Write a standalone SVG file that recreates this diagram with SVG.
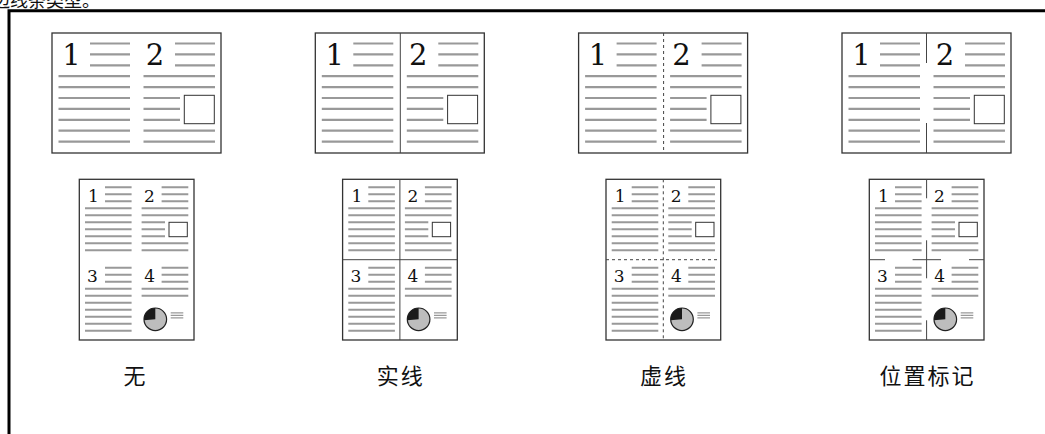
<svg xmlns="http://www.w3.org/2000/svg" xmlns:xlink="http://www.w3.org/1999/xlink" width="1045" height="434" viewBox="0 0 1045 434">
<style>
.frame{fill:#fff;stroke:#333;stroke-width:1.3}
.ln{fill:none;stroke:#999;stroke-width:2.2}
.ln2{fill:none;stroke:#999;stroke-width:2}
.sm{fill:none;stroke:#999;stroke-width:1.2}
.box{fill:#fff;stroke:#333;stroke-width:1}
.dgL{font-family:"DejaVu Serif",serif;font-size:29px;fill:#111;text-anchor:middle}
.dgS{font-family:"DejaVu Serif",serif;font-size:17px;fill:#111;text-anchor:middle}
.div{fill:none;stroke:#444;stroke-width:1}
.dash{fill:none;stroke:#444;stroke-width:1;stroke-dasharray:3 3}
.lbl{font-family:"Noto Sans CJK SC","Noto Sans",sans-serif;font-size:22px;letter-spacing:2px;fill:#111;text-anchor:middle}
.cap{font-family:"Noto Sans CJK SC","Noto Sans",sans-serif;font-size:18px;fill:#111}
</style>
<defs>
<g id="land">
<rect class="frame" x="0" y="0" width="169" height="120"/>
<path class="ln" d="M38,10.5H78M38,21.4H78M38,32.3H78M6.5,43.2H78M6.5,54.1H78M6.5,65H78M6.5,75.9H78M6.5,86.8H78M6.5,97.7H78M6.5,108.6H78"/>
<path class="ln" d="M123,10.5H163M123,21.4H163M123,32.3H163M91.5,43.2H163M91.5,54.1H163M91.5,65H128M91.5,75.9H128M91.5,86.8H128M91.5,97.7H163M91.5,108.6H163"/>
<rect class="box" x="132.3" y="62.3" width="30" height="28.4"/>
<text class="dgL" x="19.5" y="32">1</text>
<text class="dgL" x="103" y="32">2</text>
</g>
<g id="port">
<rect class="frame" x="0" y="0" width="114.7" height="160.7"/>
<path class="ln2" d="M25.7,8H52.3M25.7,15H52.3M25.7,22H52.3M5.7,29H52.3M5.7,36H52.3M5.7,43H52.3M5.7,50H52.3M5.7,57H52.3M5.7,64H52.3M5.7,71H52.3"/>
<path class="ln2" d="M82.3,8H109M82.3,15H109M82.3,22H109M62.3,29H109M62.3,36H109M62.3,43H85.7M62.3,50H85.7M62.3,57H85.7M62.3,64H109M62.3,71H109"/>
<path class="ln2" d="M25.7,88.4H52.3M25.7,95.4H52.3M25.7,102.4H52.3M5.7,109.4H52.3M5.7,116.4H52.3M5.7,123.4H52.3M5.7,130.4H52.3M5.7,137.4H52.3M5.7,144.4H52.3M5.7,151.4H52.3"/>
<path class="ln2" d="M82.3,88.4H109M82.3,95.4H109M82.3,102.4H109M62.3,109.4H109M62.3,116.4H109"/>
<rect class="box" x="89.7" y="43" width="18.3" height="14.4"/>
<circle cx="76" cy="140" r="11.3" fill="#bdbdbd" stroke="#222" stroke-width="1.2"/>
<path d="M76,140L76,128.7A11.3,11.3 0 0 0 64.74,140.98Z" fill="#1a1a1a"/>
<path class="sm" d="M91.4,133.5H104M91.4,136H104M91.4,138.5H104"/>
<text class="dgS" x="14.2" y="22.4">1</text>
<text class="dgS" x="70.2" y="22.4">2</text>
<text class="dgS" x="13.2" y="102.4">3</text>
<text class="dgS" x="70.4" y="102.4">4</text>
</g>
</defs>
<text class="cap" x="-8" y="7">边线条类型。</text>
<path d="M9,434V10.8H1045" fill="none" stroke="#000" stroke-width="3"/>
<g id="node-none">
<use xlink:href="#land" href="#land" transform="translate(52,33)"/>
<use xlink:href="#port" href="#port" transform="translate(79.3,179.3)"/>
<text class="lbl" x="135.5" y="384">无</text>
</g>
<g id="node-solid">
<use xlink:href="#land" href="#land" transform="translate(315.3,33)"/>
<path class="div" d="M400.3,33V153"/>
<use xlink:href="#port" href="#port" transform="translate(342.6,179.3)"/>
<path class="div" d="M399.9,179.3V340M342.6,259.7H457.3"/>
<text class="lbl" x="400.8" y="384">实线</text>
</g>
<g id="node-dashed">
<use xlink:href="#land" href="#land" transform="translate(578.6,33)"/>
<path class="dash" d="M663.6,33V153"/>
<use xlink:href="#port" href="#port" transform="translate(606,179.3)"/>
<path class="dash" d="M663.3,179.3V340M606,259.7H720.7"/>
<text class="lbl" x="664.1" y="384">虚线</text>
</g>
<g id="node-marks">
<use xlink:href="#land" href="#land" transform="translate(842,33)"/>
<path class="div" d="M926.5,33V63M926.5,123V153"/>
<use xlink:href="#port" href="#port" transform="translate(869.3,179.3)"/>
<path class="div" d="M926.6,179.3V198.3M926.6,320.3V340M926.6,240.3V278.3M912.6,259.7H941M869.3,259.7H885M969,259.7H984"/>
<text class="lbl" x="927.5" y="384">位置标记</text>
</g>
</svg>
